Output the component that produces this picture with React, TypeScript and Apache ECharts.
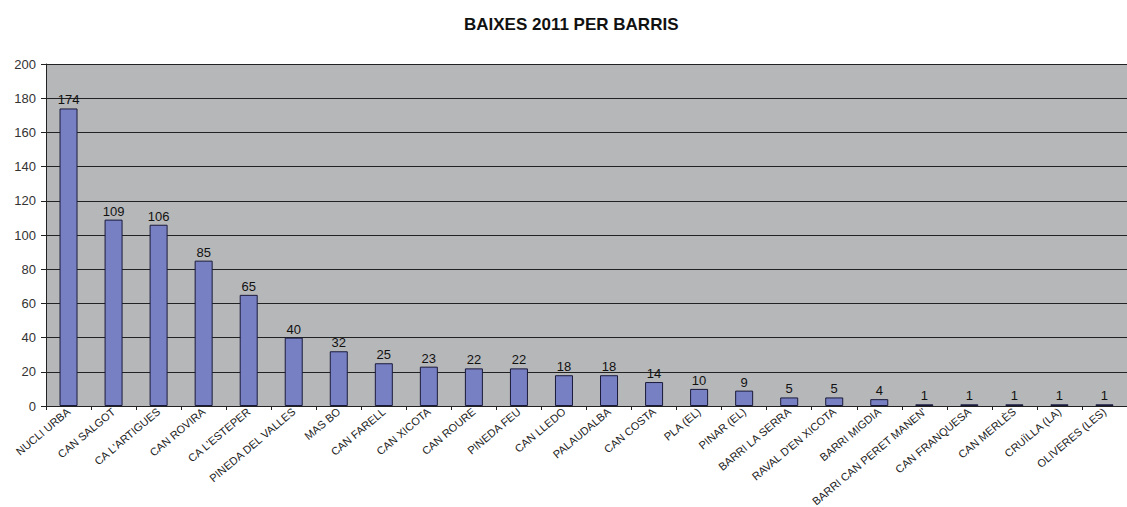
import React, { useEffect, useRef } from "react";
import * as echarts from "echarts";

const categories = [
  "NUCLI URBA",
  "CAN SALGOT",
  "CA L'ARTIGUES",
  "CAN ROVIRA",
  "CA L'ESTEPER",
  "PINEDA DEL VALLES",
  "MAS BO",
  "CAN FARELL",
  "CAN XICOTA",
  "CAN ROURE",
  "PINEDA FEU",
  "CAN LLEDO",
  "PALAUDALBA",
  "CAN COSTA",
  "PLA (EL)",
  "PINAR (EL)",
  "BARRI LA SERRA",
  "RAVAL D'EN XICOTA",
  "BARRI MIGDIA",
  "BARRI CAN PERET MANEN'",
  "CAN FRANQUESA",
  "CAN MERLÈS",
  "CRUÏLLA (LA)",
  "OLIVERES (LES)",
];

const baixes = [174, 109, 106, 85, 65, 40, 32, 25, 23, 22, 22, 18, 18, 14, 10, 9, 5, 5, 4, 1, 1, 1, 1, 1];

const title = "BAIXES 2011 PER BARRIS";

export default function App() {
  const ref = useRef<HTMLDivElement>(null);
  useEffect(() => {
    if (!ref.current) return;
    const chart = echarts.init(ref.current, undefined, { renderer: "svg" });
    const font = "Liberation Sans, Arial, sans-serif";
    chart.setOption({
      animation: false,
      backgroundColor: "#ffffff",
      title: {
        text: title,
        left: 459,
        top: 11,
        textStyle: { fontFamily: font, fontSize: 17, fontWeight: "bold", color: "#111" },
      },
      grid: {
        left: 46,
        right: 0,
        top: 64,
        bottom: 101,
        containLabel: false,
        outerBoundsMode: "none",
        show: true,
        backgroundColor: "#b6b7b9",
        borderWidth: 0,
      },
      xAxis: {
        type: "category",
        data: categories,
        axisLine: { lineStyle: { color: "#222", width: 1 } },
        axisTick: { show: true, alignWithLabel: false, length: 4, lineStyle: { color: "#222" } },
        axisLabel: {
          rotate: 40,
          interval: 0,
          fontFamily: font,
          fontSize: 11,
          color: "#222",
          margin: 4,
        },
      },
      yAxis: {
        type: "value",
        min: 0,
        max: 200,
        interval: 20,
        axisLine: { show: true, lineStyle: { color: "#222", width: 1 } },
        axisTick: { show: true, length: 5, lineStyle: { color: "#222" } },
        axisLabel: { fontFamily: font, fontSize: 13, color: "#333", margin: 10 },
        splitLine: { show: true, lineStyle: { color: "#222", width: 1 } },
      },
      series: [
        {
          type: "bar",
          data: baixes,
          barWidth: 18,
          itemStyle: { color: "#7880c4", borderColor: "#1a1a3a", borderWidth: 1 },
          label: {
            show: true,
            position: "top",
            distance: 2,
            fontFamily: font,
            fontSize: 13,
            color: "#111",
          },
        },
      ],
    });
    return () => chart.dispose();
  }, []);
  return (
    <div
      ref={ref}
      style={{ position: "absolute", left: 0, top: 0, width: 1127, height: 507 }}
    />
  );
}
